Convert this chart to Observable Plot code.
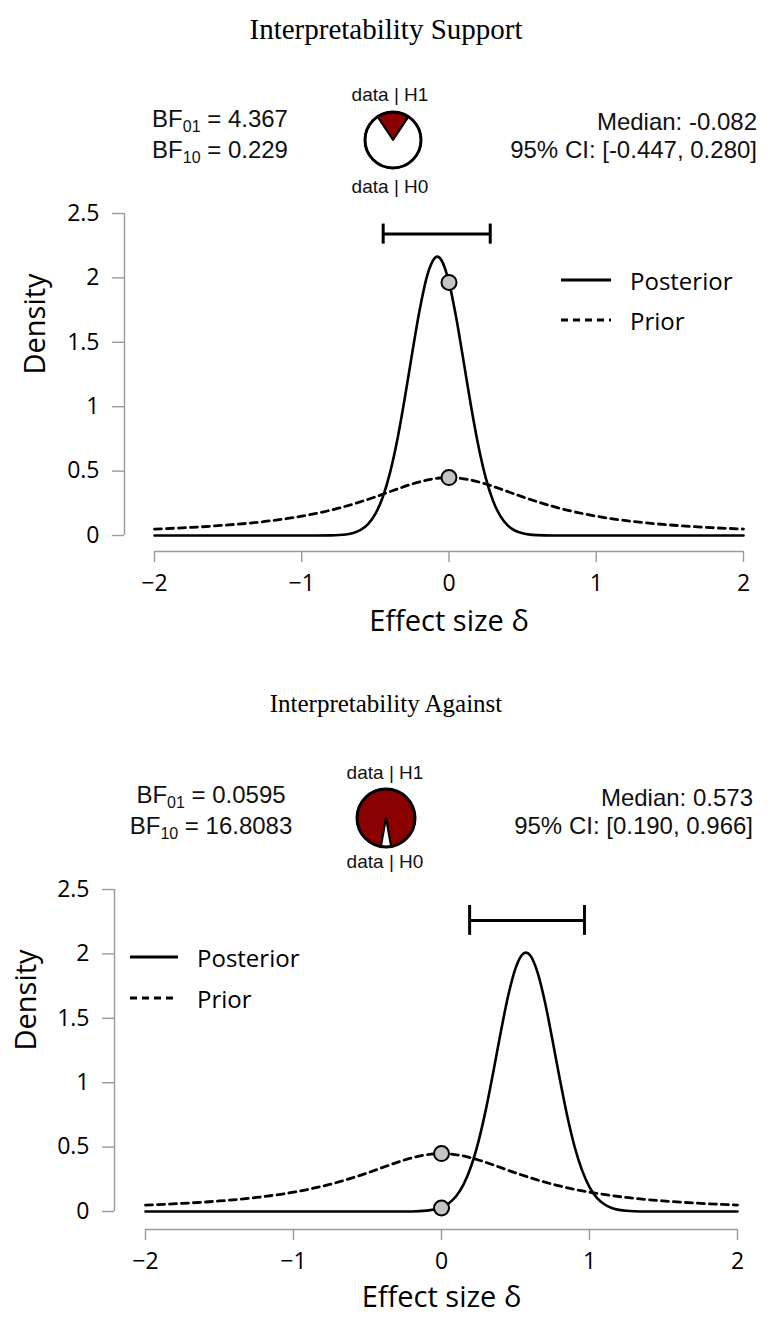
<!DOCTYPE html>
<html><head><meta charset="utf-8">
<script src="https://cdn.jsdelivr.net/npm/d3@7"></script>
<script src="https://cdn.jsdelivr.net/npm/@observablehq/plot@0.6"></script>
<style>
body{margin:0;background:#fff;}
#page{position:relative;width:772px;height:1324px;overflow:hidden;background:#fff;}
.abs{position:absolute;white-space:nowrap;}
.title{font-family:"Liberation Serif","Times New Roman",serif;color:#000;transform:translate(-50%,-50%);}
.bf{font-family:"Liberation Sans",Arial,sans-serif;font-size:24px;color:#111;line-height:28px;text-align:center;transform:translate(-50%,-50%);}
.med{font-family:"Liberation Sans",Arial,sans-serif;font-size:24px;color:#111;line-height:28px;text-align:right;transform:translate(-100%,-50%);}
.sub{font-size:16px;position:relative;top:5px;}
.hyp{font-family:"Liberation Sans",Arial,sans-serif;font-size:19px;color:#111;transform:translate(-50%,-50%);}
.leg{font-family:"Open Sans",sans-serif;font-size:24px;color:#000;transform:translate(0,-50%);}
svg.plot{position:absolute;left:0;}
</style></head><body><div id="page"></div>
<script>
// ---------------- data ----------------
const titles = ["Interpretability Support", "Interpretability Against"];
const bf01 = ["4.367", "0.0595"];
const bf10 = ["0.229", "16.8083"];
const medians = ["-0.082", "0.573"];
const ciLow = [-0.447, 0.190];
const ciHigh = [0.280, 0.966];
const xTicks = [-2, -1, 0, 1, 2];
const yTicks = [0, 0.5, 1, 1.5, 2, 2.5];
const seriesNames = ["Posterior", "Prior"];

const priorX = [-2,-1.75,-1.5,-1.25,-1,-0.875,-0.75,-0.625,-0.5,-0.375,-0.25,-0.125,0,0.125,0.25,0.375,0.5,0.625,0.75,0.875,1,1.25,1.5,1.75,2];
const priorDensity = [0.050,0.063,0.082,0.109,0.150,0.178,0.212,0.253,0.300,0.351,0.400,0.436,0.450,0.436,0.400,0.351,0.300,0.253,0.212,0.178,0.150,0.109,0.082,0.063,0.050];

const post1X = [-2,-1.5,-1,-0.9,-0.8,-0.75,-0.7,-0.65,-0.6,-0.55,-0.5,-0.45,-0.4,-0.35,-0.3,-0.25,-0.2,-0.15,-0.1,-0.08,-0.05,0,0.05,0.1,0.15,0.2,0.25,0.3,0.35,0.4,0.45,0.5,0.55,0.6,0.7,0.8,1,1.5,2];
const post1Density = [0,0,0,0.0002,0.0012,0.0033,0.0083,0.020,0.043,0.088,0.168,0.297,0.490,0.750,1.069,1.416,1.746,2.010,2.150,2.165,2.135,1.965,1.684,1.346,1.001,0.693,0.446,0.267,0.149,0.077,0.037,0.017,0.007,0.003,0.0003,0,0,0,0];

const post2X = [-2,-1.5,-1,-0.5,-0.2,-0.1,-0.05,0,0.05,0.1,0.15,0.2,0.25,0.3,0.35,0.4,0.45,0.5,0.55,0.57,0.6,0.65,0.7,0.75,0.8,0.85,0.9,0.95,1,1.05,1.1,1.15,1.2,1.25,1.3,1.4,1.5,2];
const post2Density = [0,0,0,0,0.0005,0.0066,0.0149,0.027,0.064,0.120,0.212,0.351,0.545,0.793,1.084,1.390,1.673,1.888,2.000,2.010,1.987,1.852,1.620,1.330,1.024,0.740,0.501,0.319,0.190,0.106,0.056,0.0275,0.0127,0.0055,0.0022,0.0003,0,0];

const posteriorAt0 = [1.965, 0.027];
const priorAt0 = [0.450, 0.450];

// ---------------- layout (styles / positions) ----------------
const layouts = [
  {top:0, titleY:29, titleSize:29, bfX:220, statY:136, medX:757, pieX:393, pieY:140, pieR:28, h1Y:95, h0Y:187, hypX:390,
   svgTop:180, height:480, mt:33, mb:125, ml:154, mr:29, yGap:30, xGap:16, densDx:-119, xlabDy:95,
   ciY:2.34, cap:0.078, legX1:561, legX2:611, legTextX:630, legY:[280,320]},
  {top:676, titleY:28, titleSize:25, bfX:211, statY:136, medX:753, pieX:386, pieY:142, pieR:29, h1Y:97, h0Y:186, hypX:385,
   svgTop:180, height:468, mt:33, mb:113, ml:145, mr:35, yGap:31, xGap:18, densDx:-119, xlabDy:95,
   ciY:2.26, cap:0.116, legX1:130, legX2:178, legTextX:197, legY:[281,322]}
];
const posteriors = [[post1X, post1Density], [post2X, post2Density]];
const fmt = d3.format("");

const page = document.getElementById("page");
function addDiv(cls, x, y, html){
  const d = document.createElement("div");
  d.className = "abs " + cls;
  d.style.left = x + "px"; d.style.top = y + "px";
  d.innerHTML = html;
  page.appendChild(d);
  return d;
}

layouts.forEach((L, k) => {
  const T = L.top;
  const prior = priorX.map((x, i) => ({x, d: priorDensity[i]}));
  const post = posteriors[k][0].map((x, i) => ({x, d: posteriors[k][1][i]}));
  const pts = [{x: 0, d: posteriorAt0[k]}, {x: 0, d: priorAt0[k]}];
  const ci = [{lo: ciLow[k], hi: ciHigh[k], y: L.ciY}];
  const xMin = xTicks[0], xMax = xTicks[xTicks.length - 1];
  const yMin = yTicks[0], yMax = yTicks[yTicks.length - 1];

  const plot = Plot.plot({
    width: 772, height: L.height,
    marginTop: L.mt, marginBottom: L.mb, marginLeft: L.ml, marginRight: L.mr,
    x: {domain: [xMin, xMax]},
    y: {domain: [yMin, yMax]},
    style: {fontFamily: "'Open Sans', sans-serif", background: "transparent", overflow: "visible"},
    marks: [
      Plot.ruleY([yMin], {x1: xMin, x2: xMax, dy: L.xGap, stroke: "#9a9a9a", strokeWidth: 1.4}),
      Plot.ruleX([xMin], {y1: yMin, y2: yMax, dx: -L.yGap, stroke: "#9a9a9a", strokeWidth: 1.4}),
      Plot.axisX({ticks: xTicks, tickFormat: fmt, tickSize: 11, tickPadding: 12, dy: L.xGap, fontSize: 23, stroke: "#9a9a9a", strokeWidth: 1.4, fill: "#000", label: null}),
      Plot.axisY({ticks: yTicks, tickFormat: fmt, tickSize: 12, tickPadding: 13, dx: -L.yGap, fontSize: 23, stroke: "#9a9a9a", strokeWidth: 1.4, fill: "#000", label: null}),
      Plot.text(["Density"], {text: d => d, frameAnchor: "left", rotate: -90, dx: L.densDx, fontSize: 29, fill: "#000"}),
      Plot.text(["Effect size δ"], {text: d => d, frameAnchor: "bottom", dy: L.xlabDy, fontSize: 29, fill: "#000"}),
      Plot.line(prior, {x: "x", y: "d", curve: "monotone-x", stroke: "#000", strokeWidth: 2.8, strokeDasharray: "7,5"}),
      Plot.line(post, {x: "x", y: "d", curve: "monotone-x", stroke: "#000", strokeWidth: 2.6}),
      Plot.ruleY(ci, {y: "y", x1: "lo", x2: "hi", stroke: "#000", strokeWidth: 3}),
      Plot.ruleX(ci, {x: "lo", y1: d => d.y - L.cap, y2: d => d.y + L.cap, stroke: "#000", strokeWidth: 3}),
      Plot.ruleX(ci, {x: "hi", y1: d => d.y - L.cap, y2: d => d.y + L.cap, stroke: "#000", strokeWidth: 3}),
      Plot.dot(pts, {x: "x", y: "d", r: 7.5, fill: "#c4c4c4", stroke: "#000", strokeWidth: 2})
    ]
  });
  plot.classList.add("plot");
  plot.style.top = (T + L.svgTop) + "px";
  page.appendChild(plot);

  const t = addDiv("title", 386, T + L.titleY, titles[k]);
  t.style.fontSize = L.titleSize + "px";
  addDiv("bf", L.bfX, T + L.statY,
    `BF<span class="sub">01</span> = ${bf01[k]}<br>BF<span class="sub">10</span> = ${bf10[k]}`);
  addDiv("med", L.medX, T + L.statY,
    `Median: ${medians[k]}<br>95% CI: [${ciLow[k].toFixed(3)}, ${ciHigh[k].toFixed(3)}]`);
  addDiv("hyp", L.hypX, T + L.h1Y, "data | H1");
  addDiv("hyp", L.hypX, T + L.h0Y, "data | H0");

  // pie of P(data|H1) vs P(data|H0)
  const b10 = +bf10[k];
  const pH1 = b10 / (1 + b10);
  const arcs = d3.pie().sort(null).startAngle(-Math.PI * pH1).endAngle(2 * Math.PI - Math.PI * pH1)([b10, 1]);
  const arc = d3.arc().innerRadius(0).outerRadius(L.pieR);
  const size = 2 * L.pieR + 8;
  const svg = d3.create("svg").attr("width", size).attr("height", size)
    .style("position", "absolute").style("left", (L.pieX - size / 2) + "px").style("top", (T + L.pieY - size / 2) + "px");
  const g = svg.append("g").attr("transform", `translate(${size / 2},${size / 2})`);
  g.selectAll("path").data(arcs).join("path")
    .attr("d", arc).attr("fill", (d, i) => i === 0 ? "#8b0000" : "#fff")
    .attr("stroke", "#000").attr("stroke-width", 2).attr("stroke-linejoin", "round");
  g.append("circle").attr("r", L.pieR).attr("fill", "none").attr("stroke", "#000").attr("stroke-width", 3);
  page.appendChild(svg.node());

  // legend
  seriesNames.forEach((name, j) => {
    const ly = T + L.legY[j];
    const ls = d3.create("svg").attr("width", L.legX2 - L.legX1).attr("height", 6)
      .style("position", "absolute").style("left", L.legX1 + "px").style("top", (ly - 3) + "px");
    ls.append("line").attr("x1", 0).attr("x2", L.legX2 - L.legX1).attr("y1", 3).attr("y2", 3)
      .attr("stroke", "#000").attr("stroke-width", 3)
      .attr("stroke-dasharray", j === 1 ? "7,5" : null);
    page.appendChild(ls.node());
    addDiv("leg", L.legTextX, ly, name);
  });
});
</script>
</body></html>
